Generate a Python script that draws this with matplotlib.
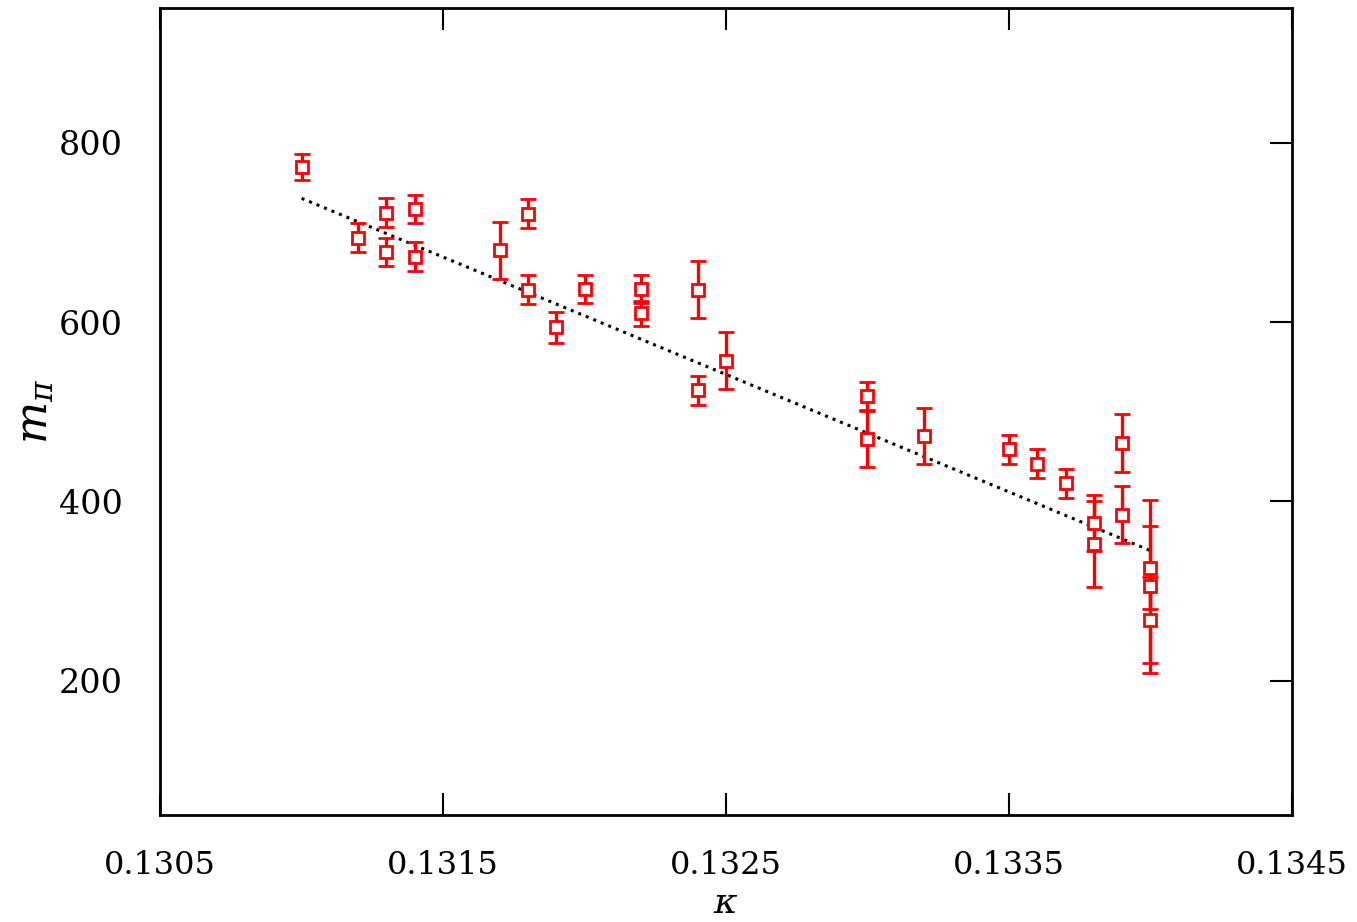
import numpy as np
import matplotlib
matplotlib.use('Agg')
import matplotlib.pyplot as plt

kappa = np.array([0.1310, 0.1312, 0.1313, 0.1313, 0.1314, 0.1314, 0.1317, 0.1318,
                  0.1318, 0.1319, 0.1320, 0.1322, 0.1322, 0.1324, 0.1324, 0.1325,
                  0.1330, 0.1330, 0.1332, 0.1335, 0.1336, 0.1337, 0.1338, 0.1338,
                  0.1339, 0.1339, 0.1340, 0.1340, 0.1340])
m_pi = np.array([773, 694, 722, 678, 726, 673, 680, 721,
                 636, 594, 637, 637, 610, 636, 524, 557,
                 517, 470, 473, 458, 442, 420, 376, 352,
                 465, 385, 326, 305, 268])
m_err = np.array([14, 16, 16, 16, 16, 16, 32, 16,
                  16, 17, 16, 16, 14, 32, 16, 32,
                  16, 32, 31, 16, 16, 16, 31, 48,
                  32, 32, 46, 96, 48])

# straight line fit shown dotted
fit_kappa = np.array([0.1310, 0.1340])
fit_m = np.array([738, 345])

plt.rcParams['font.family'] = 'DejaVu Serif'
plt.rcParams['mathtext.fontset'] = 'dejavuserif'

fig = plt.figure(figsize=(13.57, 9.22), dpi=100)
ax = fig.add_axes([0.118, 0.116, 0.834, 0.875])

ax.plot(fit_kappa, fit_m, ':', color='black', lw=2.2)
ax.errorbar(kappa, m_pi, yerr=m_err, fmt='s', color='red', mfc='white',
            mec='red', ms=8, mew=2, elinewidth=2.4, capsize=6, capthick=2.6)

ax.set_xlim(0.1305, 0.1345)
ax.set_ylim(50, 950)
ax.set_xticks([0.1305, 0.1315, 0.1325, 0.1335, 0.1345])
ax.set_xticklabels(['0.1305', '0.1315', '0.1325', '0.1335', '0.1345'])
ax.set_yticks([200, 400, 600, 800])

ax.tick_params(axis='x', direction='in', length=16, width=1.5, top=True,
               labelsize=23, pad=25)
ax.tick_params(axis='y', direction='in', length=16, width=1.5, left=False,
               right=True, labelleft=True, labelsize=24, pad=27)
for s in ax.spines.values():
    s.set_linewidth(2)

ax.set_xlabel(r'$\kappa$', fontsize=26, labelpad=4)
ax.set_ylabel(r'$m_\pi$', fontsize=32, labelpad=2)

fig.savefig('out.png', dpi=100)
